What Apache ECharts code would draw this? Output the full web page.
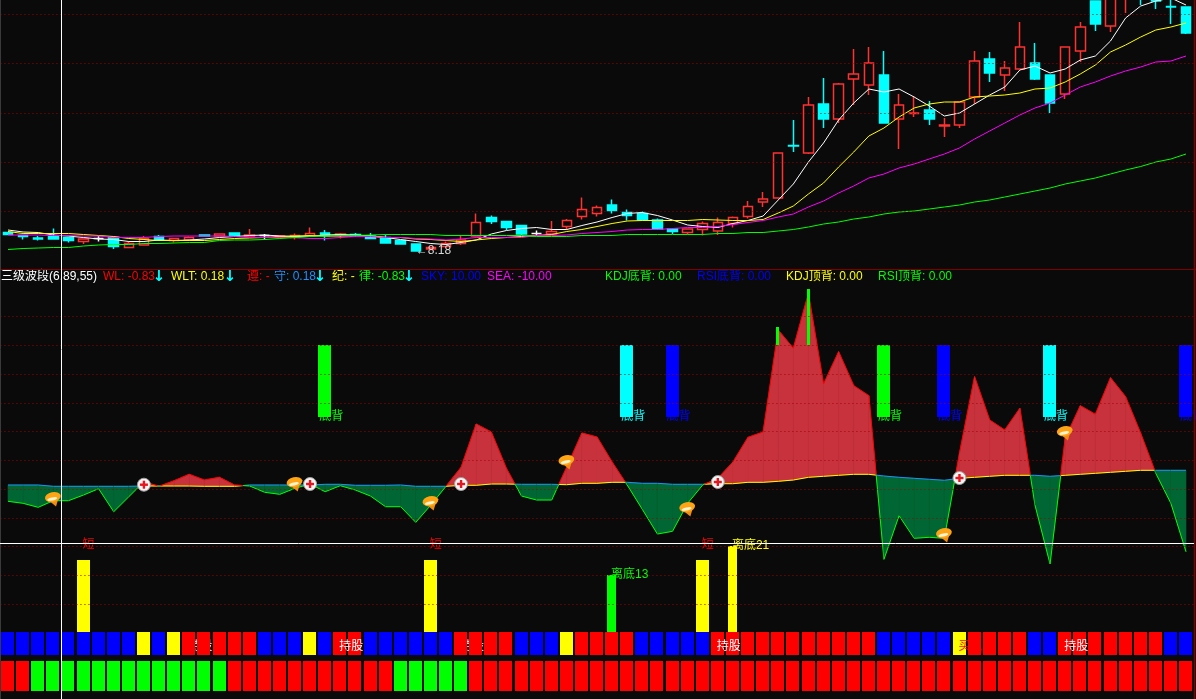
<!DOCTYPE html>
<html><head><meta charset="utf-8">
<style>html,body{margin:0;padding:0;background:#0a0a0a}#c{width:1196px;height:699px}</style>
<script src="https://cdn.jsdelivr.net/npm/echarts@6/dist/echarts.min.js"></script>
</head><body><div id="c"></div>
<script>
// [open, close, low, high]
const ohlc = [
[8.55,8.51,8.51,8.55],[8.49,8.47,8.41,8.49],[8.44,8.42,8.39,8.48],[8.47,8.42,8.42,8.63],[8.45,8.39,8.35,8.45],
[8.37,8.42,8.32,8.42],[8.43,8.43,8.37,8.48],[8.45,8.27,8.22,8.45],[8.25,8.33,8.25,8.37],[8.30,8.43,8.29,8.48],
[8.47,8.40,8.40,8.50],[8.39,8.43,8.35,8.43],[8.40,8.45,8.40,8.47],[8.50,8.48,8.47,8.50],[8.48,8.52,8.48,8.52],
[8.54,8.49,8.49,8.54],[8.48,8.50,8.48,8.62],[8.49,8.49,8.41,8.52],[8.46,8.48,8.46,8.48],[8.45,8.49,8.41,8.53],
[8.48,8.53,8.48,8.65],[8.54,8.49,8.39,8.60],[8.50,8.52,8.43,8.54],[8.51,8.48,8.48,8.54],[8.48,8.43,8.43,8.54],
[8.45,8.34,8.34,8.51],[8.39,8.32,8.32,8.39],[8.32,8.18,8.18,8.32],[8.22,8.25,8.22,8.25],[8.27,8.33,8.27,8.37],
[8.33,8.40,8.30,8.48],[8.48,8.75,8.47,8.93],[8.85,8.77,8.72,8.89],[8.77,8.65,8.60,8.77],[8.69,8.52,8.50,8.69],
[8.53,8.53,8.49,8.59],[8.52,8.57,8.52,8.78],[8.67,8.79,8.61,8.82],[8.87,9.01,8.81,9.25],[8.93,9.05,8.87,9.09],
[9.10,8.99,8.93,9.21],[8.95,8.89,8.79,9.01],[8.93,8.80,8.79,8.97],[8.80,8.62,8.62,8.83],[8.62,8.57,8.52,8.62],
[8.55,8.62,8.51,8.62],[8.61,8.73,8.49,8.77],[8.58,8.75,8.50,8.85],[8.73,8.85,8.65,8.87],[8.87,9.07,8.83,9.18],
[9.16,9.22,9.06,9.36],[9.24,10.14,9.24,10.14],[10.29,10.28,10.16,10.80],[10.14,11.10,10.12,11.26],[11.12,10.82,10.64,11.64],
[10.82,11.52,10.74,11.54],[11.62,11.72,11.10,12.22],[11.50,11.94,11.30,12.26],[11.70,10.74,10.74,12.18],[10.82,11.10,10.22,11.32],
[10.93,10.94,10.86,11.28],[11.00,10.82,10.70,11.18],[10.68,10.70,10.46,10.84],[10.70,11.16,10.64,11.16],[11.26,11.98,11.12,12.18],
[12.02,11.74,11.56,12.16],[11.70,11.84,11.38,11.98],[11.82,12.26,11.82,12.76],[11.94,11.62,11.60,12.34],[11.70,11.14,10.94,11.70],
[11.32,12.26,11.22,12.26],[12.18,12.66,11.96,12.76],[13.18,12.72,12.58,13.18],[12.68,13.40,12.56,13.60],[13.30,13.60,12.94,13.70],
[13.60,13.30,13.10,13.70],[13.35,13.18,13.02,13.40],[13.07,13.06,12.72,13.30],[13.06,12.54,12.52,13.06]
];
const ma5 = [8.60,8.56,8.55,8.50,8.48,8.45,8.42,8.41,8.37,8.37,8.40,8.39,8.40,8.42,8.45,8.47,8.49,8.50,8.48,8.47,8.47,8.50,8.51,8.50,8.48,8.45,8.41,
8.37,8.33,8.31,8.35,8.40,8.52,8.59,8.63,8.65,8.61,8.61,8.69,8.76,8.85,8.93,8.95,8.89,8.80,8.70,8.67,8.65,8.73,8.79,8.88,
9.20,9.52,9.96,10.34,10.80,11.14,11.42,11.36,11.42,11.26,11.08,10.88,10.94,11.12,11.30,11.46,11.80,11.88,11.74,11.82,12.00,12.08,12.38,12.84,13.08,13.18,13.24,13.10];
const ma10 = [8.57,8.53,8.53,8.53,8.53,8.51,8.49,8.47,8.43,8.41,8.39,8.39,8.39,8.39,8.41,8.43,8.44,8.45,8.47,8.48,8.49,8.48,8.48,8.48,8.48,8.45,8.45,
8.42,8.41,8.39,8.37,8.40,8.43,8.45,8.47,8.49,8.51,8.57,8.61,8.67,8.73,8.78,8.79,8.79,8.79,8.79,8.81,8.80,8.79,8.79,8.81,
8.94,9.08,9.32,9.54,9.86,10.16,10.48,10.64,10.86,11.04,11.12,11.16,11.16,11.26,11.28,11.30,11.34,11.42,11.44,11.56,11.72,11.90,12.16,12.30,12.46,12.60,12.66,12.74];
const ma30 = [8.50,8.50,8.50,8.49,8.49,8.48,8.48,8.45,8.45,8.45,8.47,8.48,8.48,8.48,8.48,8.47,8.45,8.45,8.45,8.45,8.43,8.43,8.45,8.47,8.47,8.45,8.45,
8.43,8.42,8.40,8.42,8.45,8.45,8.45,8.45,8.49,8.49,8.50,8.53,8.55,8.57,8.60,8.61,8.61,8.63,8.65,8.65,8.67,8.71,8.75,8.79,
8.86,8.92,9.06,9.18,9.34,9.48,9.64,9.72,9.84,9.92,10.02,10.12,10.24,10.42,10.58,10.74,10.90,11.04,11.14,11.30,11.46,11.56,11.68,11.78,11.86,11.96,11.98,12.08];
const ma60 = [8.21,8.23,8.24,8.25,8.25,8.28,8.30,8.31,8.31,8.33,8.33,8.34,8.35,8.35,8.39,8.40,8.40,8.41,8.43,8.45,8.47,8.48,8.49,8.49,8.50,8.51,8.51,
8.51,8.51,8.49,8.49,8.49,8.49,8.49,8.49,8.47,8.47,8.47,8.49,8.49,8.49,8.51,8.51,8.51,8.51,8.51,8.51,8.53,8.53,8.55,8.55,
8.58,8.61,8.66,8.72,8.76,8.82,8.86,8.92,8.96,8.98,9.02,9.06,9.10,9.16,9.20,9.26,9.32,9.38,9.44,9.52,9.58,9.64,9.72,9.80,9.87,9.96,10.02,10.12];
const wlValues = [-12.3,-14.3,-18.3,-11.7,-11.7,-6,0.3,-22.7,-7.7,7.3,2.7,8.3,14.7,9,11.7,4,3,-3.3,-5.3,0.7,5,-2.7,3.3,-1,-7,-17.7,-17.7,
-33.3,-16,2.7,21.7,65,57,20.7,-7,-11,-11,22,56,52,27,4,-20.3,-45,-42.3,-14.3,4,10.7,27,51.7,57,159,140.7,195.7,105,137.3,103.3,93.3,
-70.3,-26.7,-49.3,-48.3,-49.3,35.7,112.3,69,59,80.7,-16,-75,50.7,83.3,74.7,111.3,92.3,55.7,15.7,-14.3,-62.7];
const wltValues = [4,4,4,2.7,2.7,2.7,2.7,2.7,2.7,3,3,3,3,2.7,2.7,2.7,4,4,4,4,4,4.7,4.7,3.7,3.7,3.7,4,2.7,2.7,2.7,3.7,3.7,5,5,4.7,4.7,4.7,4.3,5.7,5.7,6.7,6.7,5.7,5.7,4.7,4.7,4.7,5.3,5.3,6.7,6.7,7.7,9,
11.7,12.7,13.7,14.7,14.7,13,11.7,10.7,9.7,8.7,10.7,11.7,12.7,13.7,13.7,13.7,12.7,13.7,14.7,15.7,16.7,17.7,18.7,18.7,18.7,18.7];
// status rows: B blue, R red, Y yellow, G green; one letter per bar
const row1Status = ('BBBBBBBBB'+'Y'+'B'+'Y'+'RRRRR'+'BBB'+'Y'+'B'+'RR'+'BBBBBB'+'RRRR'+'BBB'+'Y'+'RRRR'+'BBBBB'+'RRRRRRRRRRR'+'BBBBB'+'Y'+'RRRR'+'BB'+'RRRRRRR'+'BB').split('');
const row2Status = ('RR'+'GGGGGGGGGGGGG'+'RRRRRRRRRRR'+'GGGGG'+'RRRRRRRRRRRRRRRRRRRRRRRRRRRRRRRRRRRRRRRRRRRRRRRR').split('');
const divergenceBars = [[21,'G'],[41,'C'],[44,'B'],[58,'G'],[62,'B'],[69,'C'],[78,'B']];
const thinBars = [[51,144,162],[53,144,200]];
const shortBars = [5,28,46];
const offBottomBars = [[40,'G',-86],[48,'Y',-57]];
const crossMarks = [[9,4.3],[20,5],[30,5],[47,7],[63,11]];
const ingotMarks = [[3,-10],[19,5],[28,-14],[37,27],[45,-20],[62,-46],[70,56]];
const priceGrid = [12.91,11.93,10.93,9.95,8.97];
const indicatorGrid = [172.5,143.7,115,86.2,57.4,28.6,0,-29,-57.5,-86.5,-115];
const headerTexts = ['三级波段(6,89,55)','WL: -0.83','↓','WLT: 0.18','↓','遵: -','守: 0.18','↓','纪: -','律: -0.83','↓','SKY: 10.00','SEA: -10.00','KDJ底背: 0.00','RSI底背: 0.00','KDJ顶背: 0.00','RSI顶背: 0.00'];
const headerLeft = [1,103,159,171,230,247,274,320,332,359,409,421,487,605,697,786,878];
const headerColors = ['#ffffff','#ff0000','#00ffff','#ffff00','#00ffff','#ff0000','#1e90ff','#00ffff','#ffff00','#00ff00','#00ffff','#0000ff','#ff00ff','#00ff00','#0000ff','#ffff00','#00ff00'];

const palette = {B:'#0000ff',R:'#ff0000',Y:'#ffff00',G:'#00ff00',C:'#00ffff'};
const FONT = '"Liberation Sans","Noto Sans CJK SC",sans-serif';
const cats = ohlc.map((_,i)=>i);
const GL = 0.45, GW = 1193.1;

function gridMark(values){
  return {silent:true,symbol:'none',label:{show:false},animation:false,
    lineStyle:{color:'#a00000',type:[1,3],width:1},
    data:values.map(v=>({yAxis:v}))};
}
function maSeries(name,data,color){
  return {name,type:'line',xAxisIndex:0,yAxisIndex:0,data,showSymbol:false,symbol:'none',z:3,
    lineStyle:{color,width:1},animation:false,silent:true};
}
// floating rectangles: [index, from, to, colourKey]
function sticks(rows,width,z){
  return {type:'custom',xAxisIndex:1,yAxisIndex:1,z,silent:true,animation:false,clip:false,
    data:rows,encode:{x:0,y:[1,2]},
    renderItem(p,api){
      const a=api.coord([api.value(0),rows[p.dataIndex][1]]), b=api.coord([api.value(0),rows[p.dataIndex][2]]);
      const y=Math.round(Math.min(a[1],b[1])), h=Math.round(Math.abs(a[1]-b[1]));
      return {type:'rect',shape:{x:Math.floor(a[0]-width/2+0.07),y,width,height:h},
        style:{fill:palette[rows[p.dataIndex][3]]}};
    }};
}
// text rows: [index, value, text, colourKey]
function texts(rows,dx,align,z,fontSize){
  return {type:'custom',xAxisIndex:1,yAxisIndex:1,z,silent:true,animation:false,clip:false,
    data:rows.map(r=>[r[0],r[1]]),encode:{x:0,y:1},
    renderItem(p,api){
      const c=api.coord([api.value(0),api.value(1)]), r=rows[p.dataIndex];
      return {type:'text',x:c[0]+dx,y:c[1],
        style:{text:r[2],fill:r[3]==='W'?'#ffffff':palette[r[3]],font:(fontSize||12)+'px '+FONT,textAlign:align,textVerticalAlign:'middle'}};
    }};
}

const R1TOP=-143,R1BOT=-166,R2TOP=-172,R2BOT=-202;
const series=[
  {type:'candlestick',xAxisIndex:0,yAxisIndex:0,data:ohlc,barWidth:10,z:2,animation:false,silent:true,
   itemStyle:{color:'#0a0a0a',color0:'#00ffff',borderColor:'#ff3232',borderColor0:'#00ffff',borderColorDoji:'#ffffff',borderWidth:1.5},
   markLine:gridMark(priceGrid),
   markPoint:{silent:true,animation:false,symbolSize:0,data:[{coord:[27,8.18],value:8.18,
     label:{show:true,position:'right',distance:0,formatter:'←8.18',color:'#d8d8d8',fontSize:12,fontFamily:FONT}}]}},
  maSeries('MA5',ma5,'#ffffff'),
  maSeries('MA10',ma10,'#ffff00'),
  maSeries('MA30',ma30,'#ff00ff'),
  maSeries('MA60',ma60,'#00ff00'),
  {type:'line',xAxisIndex:1,yAxisIndex:1,data:[],z:1,symbol:'none',markLine:gridMark(indicatorGrid),animation:false,silent:true},
  // labels partly hidden behind the sticks
  texts(divergenceBars.map(r=>[r[0],72,'底背',r[1]]),-6,'left',2),
  texts([[12,-157.5,'持股','W'],[30,-157.5,'持股','W']],-1,'left',2),
  // WL / WLT area
  {type:'custom',xAxisIndex:1,yAxisIndex:1,z:3,silent:true,animation:false,clip:false,
   data:cats.map(i=>[i,wlValues[i],wltValues[i]]),encode:{x:0,y:[1,2]},
   renderItem(p,api){
     const i=p.dataIndex; if(i>=cats.length-1) return null;
     const A=api.coord([i,wlValues[i]]),B=api.coord([i+1,wlValues[i+1]]);
     const C=api.coord([i,wltValues[i]]),D=api.coord([i+1,wltValues[i+1]]);
     const seg=(P0,P1,Q0,Q1,up)=>{
       const fill=up?'#c8323c':'#006633', edge=up?'#ff0000':'#00ff00', base=up?'#ffff00':'#1e90ff';
       return [
         {type:'polygon',shape:{points:[P0,P1,Q1,Q0]},style:{fill,stroke:fill,lineWidth:0.6}},
         {type:'line',shape:{x1:Q0[0],y1:Q0[1],x2:Q1[0],y2:Q1[1]},style:{stroke:base,lineWidth:1}},
         {type:'line',shape:{x1:P0[0],y1:P0[1],x2:P1[0],y2:P1[1]},style:{stroke:edge,lineWidth:1}}
       ];
     };
     const s0=wlValues[i]-wltValues[i], s1=wlValues[i+1]-wltValues[i+1];
     let kids;
     if(s0*s1<0){
       // split at the pixel where the two lines cross
       const t=s0/(s0-s1);
       const M=[C[0]+(D[0]-C[0])*t, C[1]+(D[1]-C[1])*t];
       kids=seg(A,M,C,M,s0>0).concat(seg(M,B,M,D,s1>0));
     } else kids=seg(A,B,C,D,s0+s1>0);
     return {type:'group',children:kids};
   }},
  sticks(divergenceBars.map(r=>[r[0],144,72,r[1]]),13,4),
  sticks(thinBars.map(r=>[r[0],r[1],r[2],'G']),3,4),
  sticks(shortBars.map(i=>[i,-71,-143,'Y']),13,4),
  sticks(offBottomBars.map(r=>[r[0],r[2],-143,r[1]]),9,4),
  sticks(row1Status.map((s,i)=>[i,R1TOP,R1BOT,s]),13,4),
  sticks(row2Status.map((s,i)=>[i,R2TOP,R2BOT,s]),13,4),
  texts(shortBars.map(i=>[i,-56,'短','R']),5,'center',5),
  texts(offBottomBars.map(r=>[r[0],r[2],'离底'+(r[0]===40?'13':'21'),r[1]]),-1,'left',5),
  texts([[22,-157.5,'持股','W'],[47,-157.5,'持股','W'],[70,-157.5,'持股','W'],[63,-157.5,'买入','R']],-1,'left',5),
  // cross marks
  {type:'custom',xAxisIndex:1,yAxisIndex:1,z:6,silent:true,animation:false,clip:false,
   data:crossMarks,encode:{x:0,y:1},
   renderItem(p,api){
     const c=api.coord([api.value(0),api.value(1)]);
     return {type:'group',x:c[0],y:c[1],children:[
       {type:'circle',shape:{cx:0,cy:0,r:6.5},style:{fill:'#f4f4f4',stroke:'#a0a0a0',lineWidth:1}},
       {type:'rect',shape:{x:-4,y:-1.2,width:8,height:2.4},style:{fill:'#e8141e'}},
       {type:'rect',shape:{x:-1.2,y:-4,width:2.4,height:8},style:{fill:'#e8141e'}}
     ]};
   }},
  // gold ingot marks
  {type:'custom',xAxisIndex:1,yAxisIndex:1,z:6,silent:true,animation:false,clip:false,
   data:ingotMarks,encode:{x:0,y:1},
   renderItem(p,api){
     const c=api.coord([api.value(0),api.value(1)]);
     return {type:'group',x:c[0],y:c[1],rotation:0.22,children:[
       {type:'polygon',shape:{points:[[-6,-1],[6,-1],[1,8]]},style:{fill:'#f08c10'}},
       {type:'circle',x:0,y:-2,scaleX:1,scaleY:0.62,shape:{cx:0,cy:0,r:8},style:{fill:'#ffa514'}},
       {type:'circle',x:-1,y:-0.2,scaleX:1,scaleY:0.3,shape:{cx:0,cy:0,r:5},style:{fill:'#fff3d0'}}
     ]};
   }}
];

const chart=echarts.init(document.getElementById('c'),null,{renderer:'canvas',width:1196,height:699});
chart.setOption({
  backgroundColor:'#0a0a0a',animation:false,tooltip:{show:false},legend:{show:false},
  grid:[{left:GL,width:GW,top:0,height:267,containLabel:false},{left:GL,width:GW,top:270,height:429,containLabel:false}],
  xAxis:[0,1].map(g=>({type:'category',gridIndex:g,data:cats,show:false,boundaryGap:true})),
  yAxis:[
    {type:'value',gridIndex:0,min:7.86,max:13.2,show:false,splitLine:{show:false}},
    {type:'value',gridIndex:1,min:-210,max:219,show:false,splitLine:{show:false}}
  ],
  series,
  graphic:[
    {type:'line',z:100,silent:true,shape:{x1:61.5,y1:0,x2:61.5,y2:699},style:{stroke:'#ffffff',lineWidth:1}},
    {type:'line',z:100,silent:true,shape:{x1:0,y1:543.5,x2:1194,y2:543.5},style:{stroke:'#ffffff',lineWidth:1}},
    {type:'line',z:90,silent:true,shape:{x1:0,y1:269.5,x2:1196,y2:269.5},style:{stroke:'#800000',lineWidth:1}},
    {type:'line',z:90,silent:true,shape:{x1:1194.5,y1:0,x2:1194.5,y2:699},style:{stroke:'#800000',lineWidth:1.5}},
    {type:'line',z:90,silent:true,shape:{x1:0.5,y1:0,x2:0.5,y2:699},style:{stroke:'#3a3a3a',lineWidth:1}},
    ...headerTexts.map((t,i)=>({type:'text',z:50,silent:true,x:headerLeft[i],y:277,
      style:{text:t,fill:headerColors[i],font:t==='↓'?'bold 15px "DejaVu Sans"':'12px '+FONT,textAlign:t==='↓'?'center':'left',textVerticalAlign:'middle'}}))
  ]
});
</script></body></html>
